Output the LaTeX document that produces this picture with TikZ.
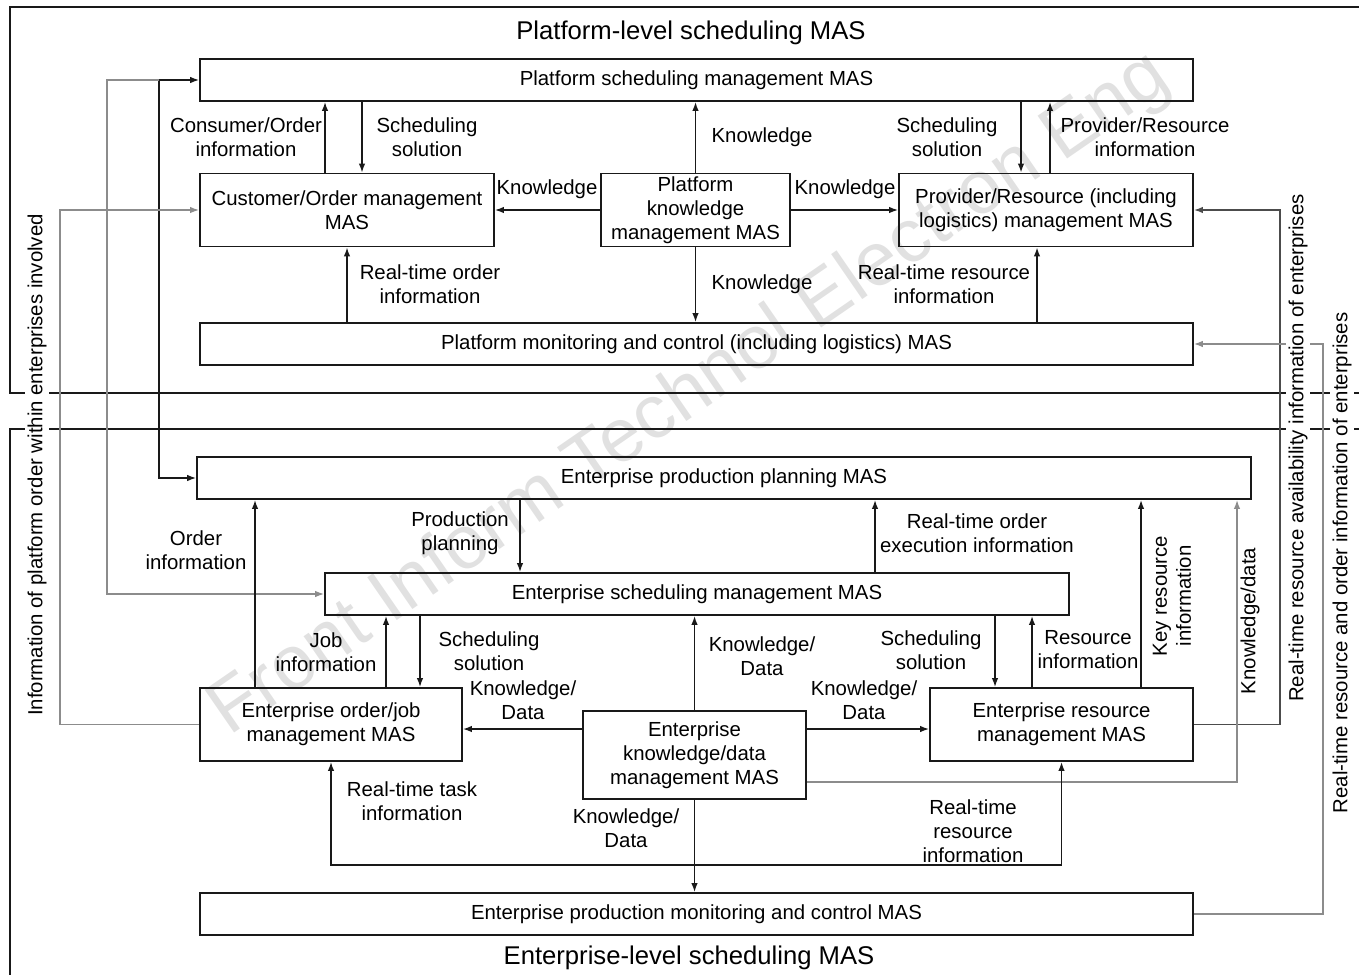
\documentclass[tikz,border=0pt]{standalone}
\usepackage{fontspec}
\setmainfont{Liberation Sans}
\usepackage{xcolor}
\usepackage{tikz}
\usetikzlibrary{arrows.meta}
\definecolor{trait}{RGB}{25,25,25}
\definecolor{gris}{RGB}{140,140,140}
\definecolor{filigrane}{RGB}{225,225,225}

\tikzset{
  mas/.style={draw=trait, line width=1pt, minimum height=0.84cm, inner sep=0pt, align=center},
  masdouble/.style={mas, minimum height=1.46cm},
  lbl/.style={inner sep=0pt, align=center},
  lblvert/.style={lbl, rotate=90, fill=white, inner sep=1.5pt},
  fleche/.style={draw=trait, line width=0.9pt, -{Latex[length=1.8mm,width=1.3mm]}},
  fleche gris/.style={fleche, draw=gris},
  cadre/.style={draw=trait, line width=1pt}
}

\begin{document}
\begin{tikzpicture}[x=0.02cm, y=-0.02cm, font=\fontsize{11.6}{13.7}\selectfont]
\clip (0,0) rectangle (1359,974);
\node[rotate=34.6, text=filigrane, font=\fontsize{43}{43}\selectfont] (wm) at (690,395) {Front Inform Technol Electron Eng};

% cadres des deux niveaux
\draw[cadre] (1400,7) -- (10,7) -- (10,393) -- (1400,393);
\draw[cadre] (1400,429) -- (10,429) -- (10,1000);
\node[font=\fontsize{14.6}{17}\selectfont] (titreP) at (691,33) {Platform-level scheduling MAS};
\node[font=\fontsize{14.6}{17}\selectfont] (titreE) at (689,958) {Enterprise-level scheduling MAS};

% niveau plateforme
\node[mas, minimum width=19.86cm] (psm) at (696.5,80) {Platform scheduling management MAS};
\node[masdouble, minimum width=5.88cm] (com) at (347,210) {Customer/Order management\\MAS};
\node[masdouble, minimum width=3.78cm] (pkm) at (695.5,210) {Platform\\knowledge\\management MAS};
\node[masdouble, minimum width=5.88cm] (prm) at (1046,210) {Provider/Resource (including\\logistics) management MAS};
\node[mas, minimum width=19.86cm] (pmc) at (696.5,344) {Platform monitoring and control (including logistics) MAS};

% niveau entreprise
\node[mas, minimum width=21.08cm] (epp) at (724,478) {Enterprise production planning MAS};
\node[mas, minimum width=14.88cm] (esm) at (697,594) {Enterprise scheduling management MAS};
\node[masdouble, minimum width=5.24cm] (eoj) at (331,724.5) {Enterprise order/job\\management MAS};
\node[mas, minimum width=4.46cm, minimum height=1.76cm] (ekd) at (694.5,755) {Enterprise\\knowledge/data\\management MAS};
\node[masdouble, minimum width=5.26cm] (erm) at (1061.5,724.5) {Enterprise resource\\management MAS};
\node[mas, minimum width=19.86cm] (epm) at (696.5,914) {Enterprise production monitoring and control MAS};

% fleches plateforme
\draw[fleche] (325,0 |- com.north) -- (325,0 |- psm.south);
\draw[fleche] (362,0 |- psm.south) -- (362,0 |- com.north);
\draw[fleche] (pkm.north) -- (pkm.north |- psm.south);
\draw[fleche] (1021,0 |- psm.south) -- (1021,0 |- prm.north);
\draw[fleche] (1050,0 |- prm.north) -- (1050,0 |- psm.south);
\draw[fleche] (pkm.west) -- (com.east);
\draw[fleche] (pkm.east) -- (prm.west);
\draw[fleche] (pkm.south) -- (pkm.south |- pmc.north);
\draw[fleche] (com.south |- pmc.north) -- (com.south);
\draw[fleche] (1037,0 |- pmc.north) -- (1037,0 |- prm.south);

% liaisons entre niveaux
\coordinate (jA) at (159,0 |- psm.west);
\draw[fleche] (jA) -- (psm.west);
\draw[fleche] (jA) |- (epp.west);
\draw[fleche gris] (jA) -- (107,0 |- jA) |- (esm.west);
\draw[fleche gris] (eoj.west) -| (60,0 |- com.west) -- (com.west);
\draw[fleche, draw=black!70] (erm.east) -| (1280,0 |- prm.east) -- (prm.east);
\draw[fleche gris] (epm.east) -| (1323,0 |- pmc.east) -- (pmc.east);
\draw[fleche gris] (ekd.east |- 0,782) -| (1237,0 |- epp.south);
\draw[fleche] (1141,0 |- erm.north) -- (1141,0 |- epp.south);

% fleches entreprise
\draw[fleche] (255,0 |- eoj.north) -- (255,0 |- epp.south);
\draw[fleche] (520,0 |- epp.south) -- (520,0 |- esm.north);
\draw[fleche] (875,0 |- esm.north) -- (875,0 |- epp.south);
\draw[fleche] (386,0 |- eoj.north) -- (386,0 |- esm.south);
\draw[fleche] (420,0 |- esm.south) -- (420,0 |- eoj.north);
\draw[fleche] (ekd.north) -- (ekd.north |- esm.south);
\draw[fleche] (995,0 |- esm.south) -- (995,0 |- erm.north);
\draw[fleche] (1032,0 |- erm.north) -- (1032,0 |- esm.south);
\draw[fleche] (ekd.west |- 0,729) -- (eoj.east |- 0,729);
\draw[fleche] (ekd.east |- 0,729) -- (erm.west |- 0,729);
\draw[fleche] (ekd.south) -- (ekd.south |- epm.north);
\coordinate (hub) at (ekd.south |- 0,865);
\draw[fleche] (hub) -| (eoj.south);
\draw[fleche] (hub) -| (erm.south);

% etiquettes
\node[lbl] (lConso) at (246,137) {Consumer/Order\\information};
\node[lbl] (lSol1) at (427,137) {Scheduling\\solution};
\node[lbl] (lKn1) at (762,137) {Knowledge};
\node[lbl] (lSol2) at (947,137) {Scheduling\\solution};
\node[lbl] (lProv) at (1145,137) {Provider/Resource\\information};
\node[lbl] (lKn2) at (547,189) {Knowledge};
\node[lbl] (lKn3) at (845,189) {Knowledge};
\node[lbl] (lKn4) at (762,284) {Knowledge};
\node[lbl] (lOrdre) at (430,284) {Real-time order\\information};
\node[lbl] (lRess) at (944,284) {Real-time resource\\information};
\node[lbl] (lOrderInfo) at (196,550) {Order\\information};
\node[lbl] (lProd) at (460,533) {Production\\planning};
\node[lbl] (lExec) at (977,533) {Real-time order\\execution information};
\node[lbl] (lJob) at (326,652) {Job\\information};
\node[lbl] (lSol3) at (489,651) {Scheduling\\solution};
\node[lbl] (lKd1) at (762,656) {Knowledge/\\Data};
\node[lbl] (lSol4) at (931,650) {Scheduling\\solution};
\node[lbl] (lResInfo) at (1088,650) {Resource\\information};
\node[lbl] (lKd2) at (523,700) {Knowledge/\\Data};
\node[lbl] (lKd3) at (864,700) {Knowledge/\\Data};
\node[lbl] (lTache) at (412,801) {Real-time task\\information};
\node[lbl] (lKd4) at (626,828) {Knowledge/\\Data};
\node[lbl] (lRess2) at (973,831) {Real-time\\resource\\information};
\node[lbl, rotate=90] (lCle) at (1172,596) {Key resource\\information};
\node[lbl, rotate=90] (lKd5) at (1250,621) {Knowledge/data};
\node[lblvert] (lPlat) at (37,465) {Information of platform order within enterprises involved};
\node[lblvert] (lDispo) at (1298,448) {Real-time resource availability information of enterprises};
\node[lblvert] (lEntr) at (1342,563) {Real-time resource and order information of enterprises};
\end{tikzpicture}
\end{document}
